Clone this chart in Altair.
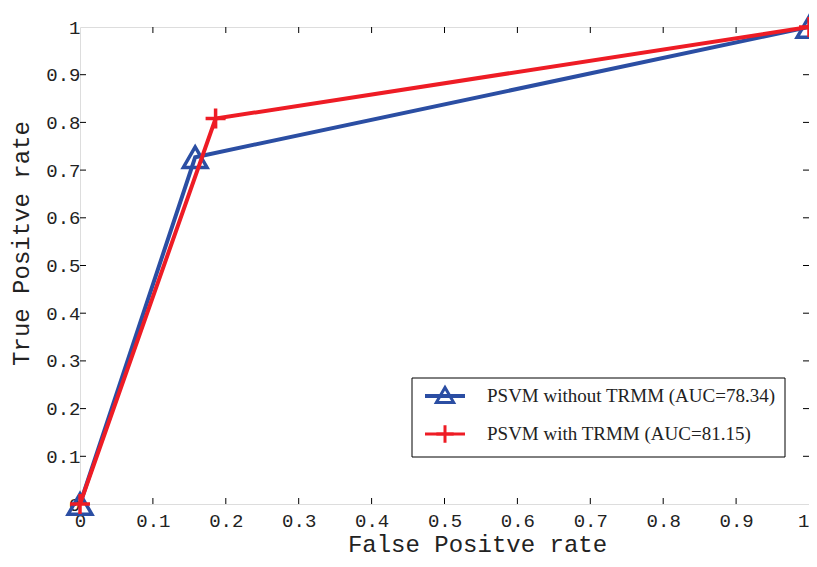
import altair as alt
import pandas as pd

# ---- data ----
fpr_without = [0.0, 0.158, 1.0]
tpr_without = [0.0, 0.727, 1.0]
fpr_with = [0.0, 0.186, 1.0]
tpr_with = [0.0, 0.808, 1.0]
series_labels = ["PSVM without TRMM (AUC=78.34)", "PSVM with TRMM (AUC=81.15)"]
tick_values = [0.0, 0.1, 0.2, 0.3, 0.4, 0.5, 0.6, 0.7, 0.8, 0.9, 1.0]
inner_ticks = [0.1, 0.2, 0.3, 0.4, 0.5, 0.6, 0.7, 0.8, 0.9]

BLUE = "#2b4ea3"
RED = "#ee1c25"
W, H = 729, 477
MONO = "Courier New, Liberation Mono, monospace"
SERIF = "Liberation Serif, Times New Roman, serif"

df_without = pd.DataFrame({"fpr": fpr_without, "tpr": tpr_without})
df_with = pd.DataFrame({"fpr": fpr_with, "tpr": tpr_with})
df_ticks = pd.DataFrame({"t": inner_ticks})

xs = alt.Scale(domain=[0, 1], nice=False, zero=False)
ys = alt.Scale(domain=[0, 1], nice=False, zero=False)

x_axis = alt.Axis(values=tick_values, format="~g", grid=False, ticks=False, domain=False,
                  labelFont=MONO, labelFontSize=19, labelColor="#222", labelPadding=7,
                  labelFlush=False,
                  labelAlign={"expr": "datum.value >= 1 ? 'right' : 'center'"},
                  title="False Positve rate", titleFont=MONO,
                  titleFontSize=24, titleFontWeight="normal", titleColor="#222",
                  titleBaseline="alphabetic", titleY=47, titleX=397)
y_axis = alt.Axis(values=tick_values, format="~g", grid=False, ticks=False, domain=False,
                  labelFont=MONO, labelFontSize=19, labelColor="#222", labelPadding=0,
                  labelFlush=False, title="True Positve rate", titleFont=MONO,
                  titleFontSize=24, titleFontWeight="normal", titleColor="#222",
                  titlePadding=12, titleY=216)

blue_line = alt.Chart(df_without).mark_line(color=BLUE, strokeWidth=4).encode(
    x=alt.X("fpr:Q", scale=xs, axis=x_axis),
    y=alt.Y("tpr:Q", scale=ys, axis=y_axis),
)
blue_pts = alt.Chart(df_without).mark_point(
    shape="triangle-up", size=560, color=BLUE, strokeWidth=3.5, filled=False, opacity=1
).encode(x=alt.X("fpr:Q", scale=xs), y=alt.Y("tpr:Q", scale=ys))

red_line = alt.Chart(df_with).mark_line(color=RED, strokeWidth=4).encode(
    x=alt.X("fpr:Q", scale=xs), y=alt.Y("tpr:Q", scale=ys)
)
PLUS = "M-1,0H1M0,-1V1"
red_pts = alt.Chart(df_with).mark_point(
    shape=PLUS, size=400, color=RED, strokeWidth=3.5, filled=False, opacity=1
).encode(x=alt.X("fpr:Q", scale=xs), y=alt.Y("tpr:Q", scale=ys))

# inward ticks on all four sides
tk = dict(color="black", strokeWidth=1)
t_bottom = alt.Chart(df_ticks).mark_rule(**tk).encode(
    x=alt.X("t:Q", scale=xs), y=alt.value(H), y2=alt.value(H - 6))
t_top = alt.Chart(df_ticks).mark_rule(**tk).encode(
    x=alt.X("t:Q", scale=xs), y=alt.value(0), y2=alt.value(6))
t_left = alt.Chart(df_ticks).mark_rule(**tk).encode(
    y=alt.Y("t:Q", scale=ys), x=alt.value(0), x2=alt.value(6))
t_right = alt.Chart(df_ticks).mark_rule(**tk).encode(
    y=alt.Y("t:Q", scale=ys), x=alt.value(W), x2=alt.value(W - 6))

# legend
one = pd.DataFrame({"a": [0]})
lx0, lx1, ly0, ly1 = 332, 705, 351, 430
r1, r2 = 369, 407
leg_box = alt.Chart(one).mark_rect(fill="white", stroke="black", strokeWidth=1).encode(
    x=alt.value(lx0), x2=alt.value(lx1), y=alt.value(ly0), y2=alt.value(ly1))
leg_l1 = alt.Chart(one).mark_rule(color=BLUE, strokeWidth=4).encode(
    x=alt.value(345), x2=alt.value(385), y=alt.value(r1))
leg_m1 = alt.Chart(one).mark_point(shape="triangle-up", size=300, color=BLUE,
                                   strokeWidth=3, filled=False, opacity=1).encode(
    x=alt.value(365), y=alt.value(r1 - 1))
leg_l2 = alt.Chart(one).mark_rule(color=RED, strokeWidth=3).encode(
    x=alt.value(345), x2=alt.value(385), y=alt.value(r2))
leg_m2 = alt.Chart(one).mark_point(shape=PLUS, size=300, color=RED,
                                   strokeWidth=3, filled=False, opacity=1).encode(
    x=alt.value(365), y=alt.value(r2))
leg_t1 = alt.Chart(pd.DataFrame({"label": [series_labels[0]]})).mark_text(
    align="left", baseline="middle", font=SERIF, fontSize=19, color="#222").encode(
    x=alt.value(407), y=alt.value(r1), text="label:N")
leg_t2 = alt.Chart(pd.DataFrame({"label": [series_labels[1]]})).mark_text(
    align="left", baseline="middle", font=SERIF, fontSize=19, color="#222").encode(
    x=alt.value(407), y=alt.value(r2), text="label:N")

chart = alt.layer(
    blue_line, t_bottom, t_top, t_left, t_right,
    blue_pts, red_line, red_pts,
    leg_box, leg_l1, leg_m1, leg_l2, leg_m2, leg_t1, leg_t2,
).properties(
    width=W, height=H,
    autosize=alt.AutoSizeParams(type="none"),
    padding={"left": 72, "top": 19, "right": 0, "bottom": 55},
).configure_view(stroke="black", strokeWidth=1.2).configure(background="white")

chart.save("out.html", embed_options={"renderer": "svg", "actions": False})
